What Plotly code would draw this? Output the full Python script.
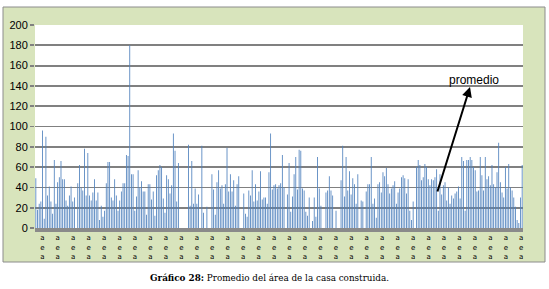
import plotly.graph_objects as go

# Values (area per house), left to right
values_a = [49, 18, 24, 26, 96, 9, 90, 32, 41, 26, 14, 67, 24, 45, 50, 66, 48, 48, 27, 22,
            32, 41, 26, 30, 0, 44, 62, 40, 37, 78, 32, 74, 32, 27, 35, 48, 27, 35, 8, 22,
            11, 17, 44, 65, 65, 30, 27, 48, 32, 17, 27, 36, 44, 44, 72, 71, 180, 53, 53, 17,
            31, 57, 40, 46, 36, 36, 13, 43, 43, 28, 36, 12, 52]
values_b = [57, 62, 60, 29, 15, 52, 48, 34, 42, 93, 76, 26, 64, 0, 0, 0, 0, 0, 82, 22,
            66, 24, 39, 24, 33, 0, 81, 15, 0, 21, 0, 0, 53, 38, 13, 45, 57, 39, 42, 24,
            43, 79, 36, 53, 36, 47, 22, 43, 51, 0, 0, 34, 14, 11, 37, 32, 57, 26, 43, 27,
            36, 56, 28, 30, 30, 24, 55, 93, 38, 42, 43, 39, 42, 44]
values_c = [72, 40, 0, 33, 64, 16, 31, 53, 70, 38, 77, 76, 39, 37, 16, 12, 30, 0, 7, 30,
            11, 70, 39, 22, 0, 0, 35, 37, 51, 37, 32, 0, 17, 0, 0, 47, 81, 31, 70, 37,
            56, 33, 49, 43, 24, 53, 0, 27, 26, 0, 36, 43, 43, 70, 24, 29, 10, 43, 45, 35,
            55, 51, 59, 43, 34, 39, 42, 46, 24, 35, 39, 50, 52]
values_d = [49, 34, 48, 17, 8, 26, 0, 60, 67, 62, 47, 50, 63, 60, 48, 42, 48, 47, 50, 58,
            17, 53, 33, 42, 45, 27, 40, 24, 32, 29, 34, 36, 41, 29, 70, 66, 17, 67, 67, 70,
            67, 60, 57, 36, 37, 70, 52, 37, 70, 48, 51, 42, 62, 43, 40, 55, 84, 45, 35, 30,
            60, 39, 63, 40, 37, 30, 21, 8, 5, 30, 62]
values = values_a + values_b + values_c + values_d
categories = list(range(1, len(values) + 1))

y_ticks = [0, 20, 40, 60, 80, 100, 120, 140, 160, 180, 200]
x_tick_label = "a<br>e<br>a"
caption = "<b>Gráfico 28:</b> Promedio del área de la casa construida."
note = "promedio"

N = len(values)
W, H = 549, 289
L, R, T, B = 35, 523, 25, 228
pw, ph = R - L, B - T


def px_to_x(px):
    return 0.5 + (px - L) / pw * N


def py_to_y(py):
    return (B - py) / ph * 200


tickvals = [px_to_x(42.3 + 15.45 * k) for k in range(32)]

fig = go.Figure()
fig.add_trace(go.Bar(x=categories, y=values, marker=dict(color="#4F81BD", line=dict(width=0)),
                     showlegend=False))

fig.update_layout(
    width=W, height=H,
    margin=dict(l=L, r=W - R, t=T, b=H - B, autoexpand=False),
    paper_bgcolor="white", plot_bgcolor="white",
    bargap=0.5,
    font=dict(family="Liberation Sans", color="black"),
    xaxis=dict(range=[0.5, N + 0.5], tickvals=tickvals, ticktext=[x_tick_label] * len(tickvals),
               tickfont=dict(size=7, family="DejaVu Sans"), showgrid=False,
               showline=True, linecolor="#8a8a8a", linewidth=4, ticks="", zeroline=False),
    yaxis=dict(range=[0, 200], tickvals=y_ticks, showgrid=True, gridcolor="#808080", gridwidth=1.8,
               ticks="outside", ticklen=4, tickcolor="#808080", tickwidth=1.8,
               tickfont=dict(size=11, family="Liberation Sans"), zeroline=False, showline=False),
    shapes=[
        dict(type="rect", xref="paper", yref="paper", layer="below",
             x0=(3 - L) / pw, x1=(545 - L) / pw, y0=(B - 262) / ph, y1=(B - 7) / ph,
             fillcolor="#d8e4bc", line=dict(color="#8c8c8c", width=1)),
        dict(type="rect", xref="paper", yref="paper", layer="below",
             x0=0, x1=1, y0=0, y1=1, fillcolor="white", line=dict(width=0)),
    ],
    annotations=[
        dict(text=note, xref="x", yref="y", x=px_to_x(474), y=py_to_y(80), showarrow=False,
             font=dict(size=12, family="Liberation Sans")),
        dict(text="", xref="x", yref="y", x=px_to_x(470), y=py_to_y(87),
             axref="x", ayref="y", ax=px_to_x(437), ay=py_to_y(193),
             showarrow=True, arrowhead=2, arrowsize=1, arrowwidth=2, arrowcolor="black"),
        dict(text=caption, xref="paper", yref="paper", x=(269 - L) / pw, y=(B - 278) / ph,
             xanchor="center", yanchor="middle",
             showarrow=False, font=dict(size=8.8, family="DejaVu Serif")),
    ],
)

fig.write_html("out.html", config={"displayModeBar": False, "staticPlot": True},
               post_script="document.body.style.margin='0';")
